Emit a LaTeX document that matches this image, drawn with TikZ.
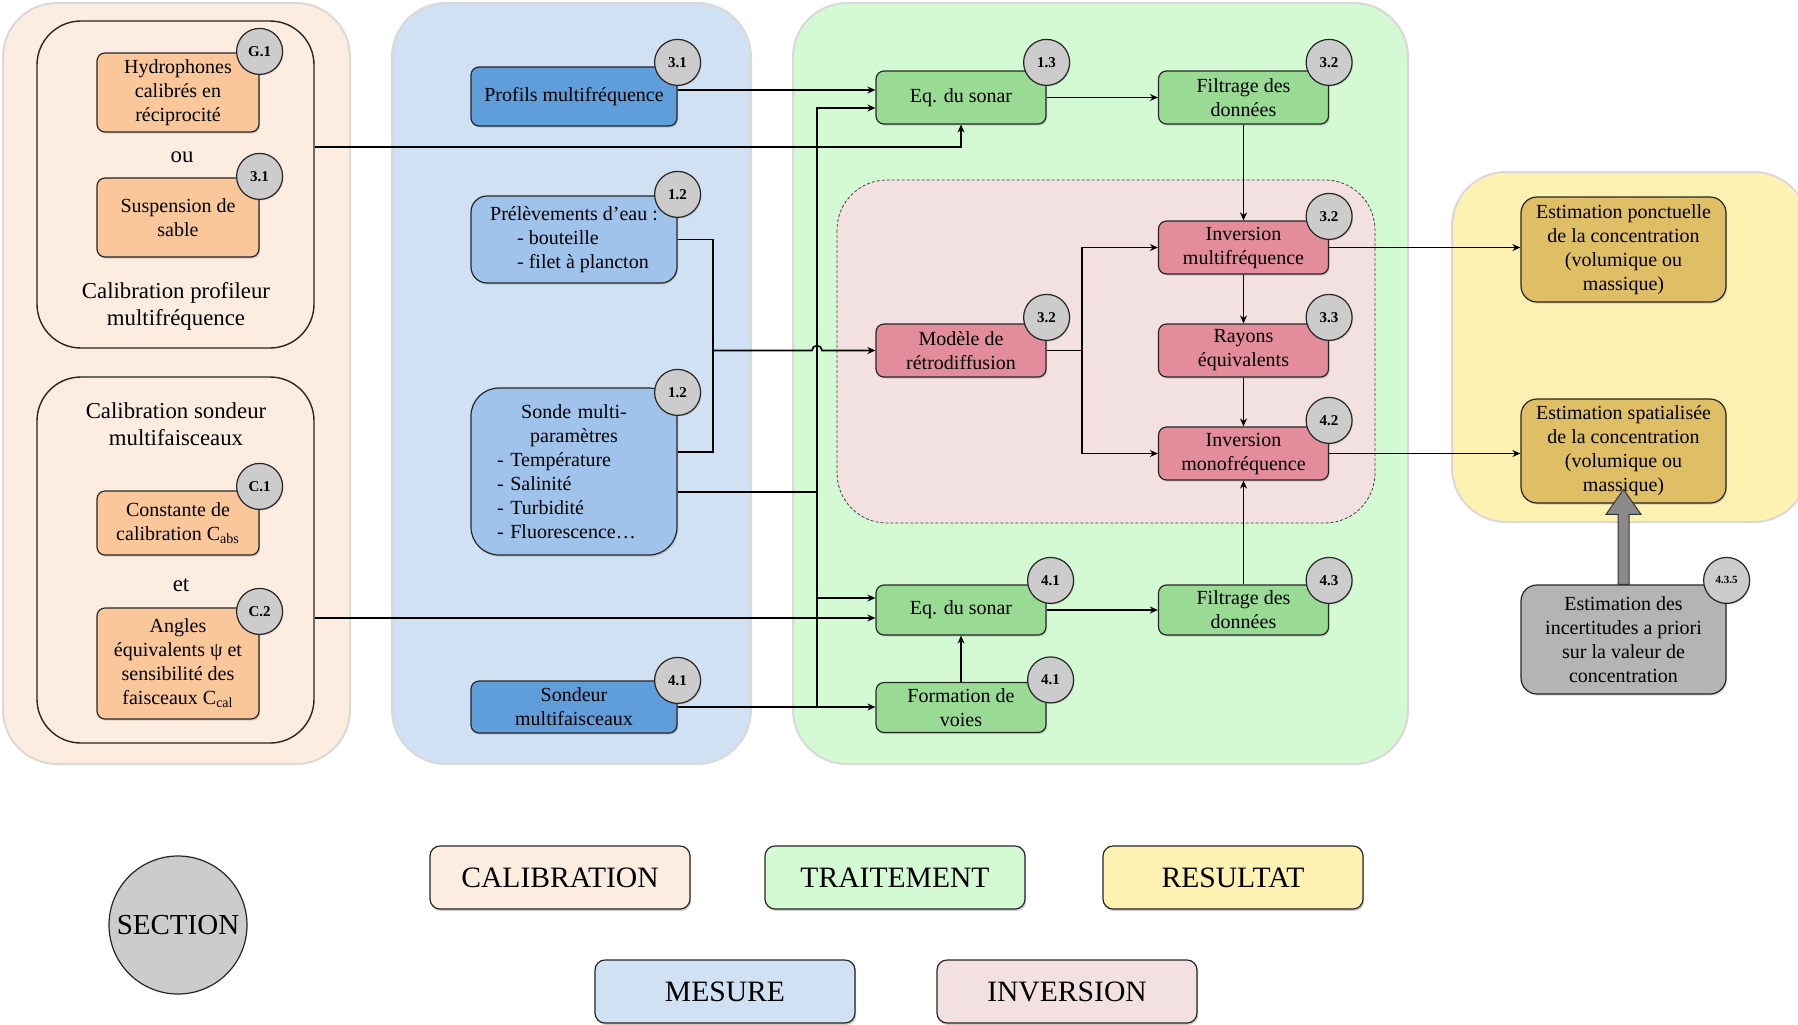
\documentclass[tikz,border=0pt]{standalone}
\usepackage{fontspec}
\setmainfont{Liberation Serif}
\usetikzlibrary{arrows.meta,shadows}

\definecolor{calpanel}{RGB}{253,237,224}
\definecolor{calbox}{RGB}{249,199,154}
\definecolor{mespanel}{RGB}{207,225,243}
\definecolor{mesdark}{RGB}{95,158,219}
\definecolor{meslight}{RGB}{159,195,234}
\definecolor{trapanel}{RGB}{211,250,211}
\definecolor{trabox}{RGB}{153,218,149}
\definecolor{invpanel}{RGB}{243,225,225}
\definecolor{invbox}{RGB}{227,140,155}
\definecolor{respanel}{RGB}{254,242,179}
\definecolor{resbox}{RGB}{223,191,102}
\definecolor{badgegray}{RGB}{204,204,204}
\definecolor{incbox}{RGB}{180,180,180}
\definecolor{arrowgray}{RGB}{138,138,138}

\tikzset{
  panel/.style={draw=black!15, line width=1pt, rounded corners=27pt},
  calgroup/.style={draw=black!85, line width=0.7pt, rounded corners=22pt},
  procbox/.style={draw=black!85, line width=0.6pt, rounded corners=4pt,
    minimum width=85pt, minimum height=26.5pt, inner sep=1pt, align=center,
    font=\fontsize{10}{12}\selectfont,
    drop shadow={shadow xshift=0.6pt, shadow yshift=-0.8pt, opacity=0.3}},
  badge/.style={circle, draw=black!85, line width=0.6pt, fill=badgegray,
    minimum size=23pt, inner sep=0pt, font=\fontsize{7.5}{9}\selectfont\bfseries,
    drop shadow={shadow xshift=0.5pt, shadow yshift=-0.6pt, opacity=0.25}},
  grouplabel/.style={align=center, font=\fontsize{11.4}{13.5}\selectfont},
  legbox/.style={draw=black!85, line width=0.6pt, rounded corners=5pt,
    minimum width=130pt, minimum height=31.5pt, font=\fontsize{14.8}{16}\selectfont,
    drop shadow={shadow xshift=0.6pt, shadow yshift=-1pt, opacity=0.4}},
  wire/.style={line width=0.8pt},
  wirearrow/.style={wire, -{Stealth[length=4pt,width=3.5pt]}},
}

\begin{document}
\begin{tikzpicture}[x=0.5pt, y=-0.5pt]
    \useasboundingbox (0,0) rectangle (1798,1024);
    % Panels
    \filldraw[panel, fill=calpanel] (3,3) rectangle (350,764);
    \filldraw[panel, fill=mespanel] (392,3) rectangle (751,764);
    \filldraw[panel, fill=trapanel] (793,3) rectangle (1408,764);
    \filldraw[panel, fill=respanel] (1452,172) rectangle (1808,522);
    \filldraw[fill=invpanel, draw=black!75, dash pattern=on 1.5pt off 1pt, rounded corners=25pt] (837,180) rectangle (1375,523);

    % Calibration
    \node[calgroup, minimum width=138.5pt, minimum height=163.5pt] (calA) at (175.5,184.5) {};
    \node[calgroup, minimum width=138.5pt, minimum height=183pt] (calB) at (175.5,560) {};
    \node[procbox, fill=calbox, minimum width=81pt, minimum height=39.5pt] (hydro) at (178,92.5) {Hydrophones\\calibrés en\\réciprocité};
    \node[grouplabel] (ou) at (182,157) {ou};
    \node[procbox, fill=calbox, minimum width=81pt, minimum height=39.5pt] (sable) at (178,217.5) {Suspension de\\sable};
    \node[grouplabel] (calAtxt) at (176,306) {Calibration profileur\\multifréquence};
    \node[grouplabel] (calBtxt) at (176,424) {Calibration sondeur\\multifaisceaux};
    \node[procbox, fill=calbox, minimum width=81pt, minimum height=32pt] (cabs) at (178,523) {Constante de\\calibration C\textsubscript{abs}};
    \node[grouplabel] (et) at (181,585) {et};
    \node[procbox, fill=calbox, minimum width=81pt, minimum height=55.5pt] (angles) at (178,663.5) {Angles\\équivalents ψ et\\sensibilité des\\faisceaux C\textsubscript{cal}};

    % Mesure
    \node[procbox, fill=mesdark, minimum width=103pt, minimum height=29.5pt] (profils) at (574,96.5) {Profils multifréquence};
    \node[procbox, fill=meslight, minimum width=103pt, minimum height=43.5pt, rounded corners=8pt, align=left] (prelev) at (574,239.5) {Prélèvements d’eau :\\\hspace*{13.5pt}- bouteille\\\hspace*{13.5pt}- filet à plancton};
    \node[procbox, fill=meslight, minimum width=103pt, minimum height=83.5pt, rounded corners=14pt, text width=80pt, align=left] (sonde) at (574,471.5) {{\centering Sonde multi-\\paramètres\par}\hspace*{1.5pt}- Température\\\hspace*{1.5pt}- Salinité\\\hspace*{1.5pt}- Turbidité\\\hspace*{1.5pt}- Fluorescence…};
    \node[procbox, fill=mesdark, minimum width=103pt, minimum height=26pt] (sondeur) at (574,707) {Sondeur\\multifaisceaux};

    % Traitement
    \node[procbox, fill=trabox] (eqa) at (961,97.5) {Eq. du sonar};
    \node[procbox, fill=trabox] (filta) at (1243.5,97.5) {Filtrage des\\données};
    \node[procbox, fill=trabox, minimum height=25pt] (eqb) at (961,610) {Eq. du sonar};
    \node[procbox, fill=trabox, minimum height=25pt] (filtb) at (1243.5,610) {Filtrage des\\données};
    \node[procbox, fill=trabox, minimum height=25pt] (formation) at (961,707.5) {Formation de\\voies};

    % Inversion
    \node[procbox, fill=invbox] (modele) at (961,350.5) {Modèle de\\rétrodiffusion};
    \node[procbox, fill=invbox] (invmulti) at (1243.5,247.5) {Inversion\\multifréquence};
    \node[procbox, fill=invbox] (rayons) at (1243.5,350.5) {Rayons\\équivalents};
    \node[procbox, fill=invbox] (invmono) at (1243.5,453.5) {Inversion\\monofréquence};

    % Resultat
    \node[procbox, fill=resbox, minimum width=102.5pt, minimum height=52.5pt, rounded corners=8pt] (ponct) at (1623.5,249.5) {Estimation ponctuelle\\de la concentration\\(volumique ou\\massique)};
    \node[procbox, fill=resbox, minimum width=102.5pt, minimum height=52pt, rounded corners=8pt] (spat) at (1623.5,451) {Estimation spatialisée\\de la concentration\\(volumique ou\\massique)};
    \node[procbox, fill=incbox, minimum width=102.5pt, minimum height=54.5pt, rounded corners=8pt] (incert) at (1623.5,639.5) {Estimation des\\incertitudes a priori\\sur la valeur de\\concentration};

    % Sections
    \node[badge] (bhydro) at ([yshift=0.5pt]hydro.north east) {G.1};
    \node[badge] (bsable) at ([yshift=0.5pt]sable.north east) {3.1};
    \node[badge] (bcabs) at ([yshift=2pt]cabs.north east) {C.1};
    \node[badge] (bangles) at ([yshift=-2pt]angles.north east) {C.2};
    \node[badge] (bprofils) at ([yshift=2pt]profils.north east) {3.1};
    \node[badge] (bprelev) at ([yshift=0.5pt]prelev.north east) {1.2};
    \node[badge] (bsonde) at ([yshift=-2.5pt]sonde.north east) {1.2};
    \node[badge] (bsondeur) at (sondeur.north east) {4.1};
    \node[badge] (beqa) at ([yshift=4pt]eqa.north east) {1.3};
    \node[badge] (bfilta) at ([yshift=4pt]filta.north east) {3.2};
    \node[badge] (binvmulti) at ([yshift=2pt]invmulti.north east) {3.2};
    \node[badge] (bmodele) at ([yshift=3pt]modele.north east) {3.2};
    \node[badge] (brayons) at ([yshift=3pt]rayons.north east) {3.3};
    \node[badge] (binvmono) at ([yshift=3pt]invmono.north east) {4.2};
    \node[badge] (beqb) at ([xshift=2pt,yshift=2pt]eqb.north east) {4.1};
    \node[badge] (bfiltb) at ([yshift=2pt]filtb.north east) {4.3};
    \node[badge] (bformation) at ([xshift=2pt,yshift=1pt]formation.north east) {4.1};
    \node[badge, font=\fontsize{5.5}{6}\selectfont\bfseries] (bincert) at ([yshift=2pt]incert.north east) {4.3.5};

    % Connectors
    \coordinate (bus) at (817,0);
    \coordinate (mx) at (713,0);
    \coordinate (hopL) at (812,0);
    \coordinate (mbr) at (1082,0);
    \coordinate (eqain) at ([yshift=-5.25pt]eqa.west);
    \coordinate (eqaprof) at ([yshift=3.75pt]eqa.west);
    \coordinate (eqbbus) at ([yshift=6pt]eqb.west);
    \coordinate (eqbcal) at ([yshift=-4pt]eqb.west);
    \coordinate (sondeup) at ([yshift=9.75pt]sonde.east);
    \coordinate (sondedown) at ([yshift=-10.25pt]sonde.east);
    \coordinate (calAout) at ([yshift=18.75pt]calA.east);

    \draw[wirearrow] (calAout) -| (eqa.south);
    \draw[wirearrow] (eqbcal -| calB.east) -- (eqbcal);
    \draw[wirearrow] (eqaprof -| profils.east) -- (eqaprof);
    \draw[wire] (prelev.east) -| (mx |- sondeup) -- (sondeup);
    \draw[wirearrow] (mx |- modele.west) -- (hopL |- modele.west) arc[start angle=180, end angle=0, radius=2.5pt] -- (modele.west);
    \draw[wire] (sondedown) -- (bus |- sondedown);
    \draw[wirearrow] (bus |- sondeur.east) -- (bus |- eqain) -- (eqain);
    \draw[wirearrow] (bus |- eqbbus) -- (eqbbus);
    \draw[wirearrow] (sondeur.east) -- (sondeur.east -| formation.west);

    \draw[wirearrow] (eqa.east) -- (filta.west);
    \draw[wirearrow] (filta.south) -- (invmulti.north);
    \draw[wirearrow] (modele.east) -- (mbr |- modele.east) |- (invmulti.west);
    \draw[wirearrow] (mbr |- modele.east) |- (invmono.west);
    \draw[wirearrow] (invmulti.south) -- (rayons.north);
    \draw[wirearrow] (rayons.south) -- (invmono.north);
    \draw[wirearrow] (eqb.east) -- (filtb.west);
    \draw[wirearrow] (filtb.north) -- (invmono.south);
    \draw[wirearrow] (formation.north) -- (eqb.south);
    \draw[wirearrow] (invmulti.east) -- (invmulti.east -| ponct.west);
    \draw[wirearrow] (invmono.east) -- (invmono.east -| spat.west);

    % Incertitudes
    \filldraw[fill=arrowgray, draw=black!80, line width=0.5pt] (incert.north) ++(-5.5,0) -- ++(0,-70) -- ++(-12,0) -- ++(17.5,-25) -- ++(17.5,25) -- ++(-12,0) -- ++(0,70) -- cycle;

    % Legend
    \node[circle, draw=black!85, line width=0.6pt, fill=badgegray, minimum size=69pt, inner sep=0pt, font=\fontsize{14.5}{16}\selectfont] (legsection) at (178,925) {SECTION};
    \node[legbox, fill=calpanel] (legcal) at (560,877.5) {CALIBRATION};
    \node[legbox, fill=trapanel] (legtra) at (895,877.5) {TRAITEMENT};
    \node[legbox, fill=respanel] (legres) at (1233,877.5) {RESULTAT};
    \node[legbox, fill=mespanel] (legmes) at (725,991.5) {MESURE};
    \node[legbox, fill=invpanel] (leginv) at (1067,991.5) {INVERSION};
\end{tikzpicture}
\end{document}
